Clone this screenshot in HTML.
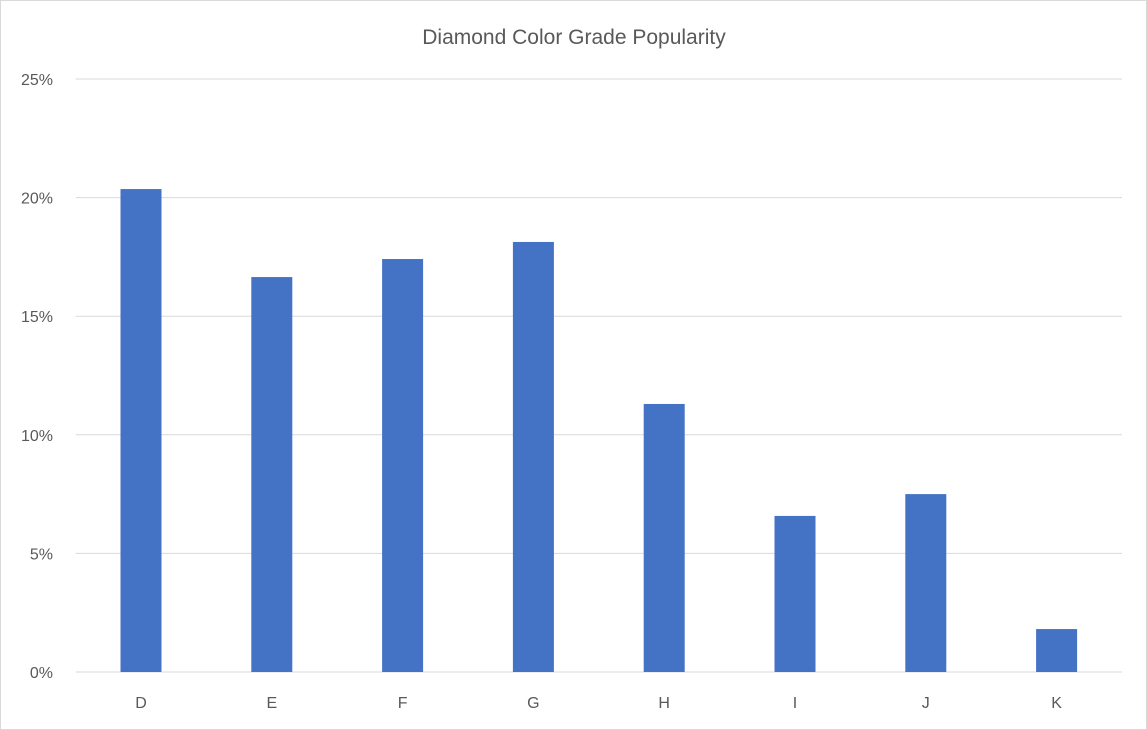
<!DOCTYPE html>
<html><head><meta charset="utf-8"><style>
body{margin:0;background:#fff}
svg{display:block;font-family:"Liberation Sans",Calibri,sans-serif}
</style></head><body>
<svg id="chart" width="1147" height="730">
<rect x="0.5" y="0.5" width="1146" height="729" fill="#fff" stroke="#d9d9d9"/>
<text x="574" y="44" text-anchor="middle" font-size="21" fill="#595959">Diamond Color Grade Popularity</text>
<g id="grid"></g><g id="bars"></g><g id="labels"></g>
</svg>
<script>
const categories=["D","E","F","G","H","I","J","K"];
const values=[20.36,16.65,17.41,18.13,11.30,6.58,7.50,1.81];
const ticks=[0,5,10,15,20,25];
const tickLabels=["0%","5%","10%","15%","20%","25%"];
const NS="http://www.w3.org/2000/svg";
const left=75.6,right=1122,y0=672,yTop=79,maxV=25;
const y=v=>y0-(v/maxV)*(y0-yTop);
const bw=(right-left)/categories.length;
const x=i=>left+bw*(i+0.5);
const grid=document.getElementById('grid'),bars=document.getElementById('bars'),labels=document.getElementById('labels');
ticks.forEach((t,i)=>{
 const l=document.createElementNS(NS,'line');
 l.setAttribute('x1',left);l.setAttribute('x2',right);l.setAttribute('y1',y(t));l.setAttribute('y2',y(t));
 l.setAttribute('stroke','#d9d9d9');l.setAttribute('stroke-width','1');
 
 
 grid.appendChild(l);
 const tx=document.createElementNS(NS,'text');
 tx.setAttribute('x',53);tx.setAttribute('y',y(t)+6);tx.setAttribute('text-anchor','end');
 tx.setAttribute('font-size','16');tx.setAttribute('fill','#595959');
 tx.textContent=tickLabels[i];
 
 
 labels.appendChild(tx);
});
categories.forEach((c,i)=>{
 const r=document.createElementNS(NS,'rect');
 r.setAttribute('x',x(i)-20.5);r.setAttribute('width',41);
 r.setAttribute('y',y(values[i]));r.setAttribute('height',y0-y(values[i]));
 r.setAttribute('fill','#4472c4');
 
 
 bars.appendChild(r);
 const tx=document.createElementNS(NS,'text');
 tx.setAttribute('x',x(i));tx.setAttribute('y',708);tx.setAttribute('text-anchor','middle');
 tx.setAttribute('font-size','16');tx.setAttribute('fill','#595959');
 tx.textContent=c;
 
 
 labels.appendChild(tx);
});
</script>
</body></html>
